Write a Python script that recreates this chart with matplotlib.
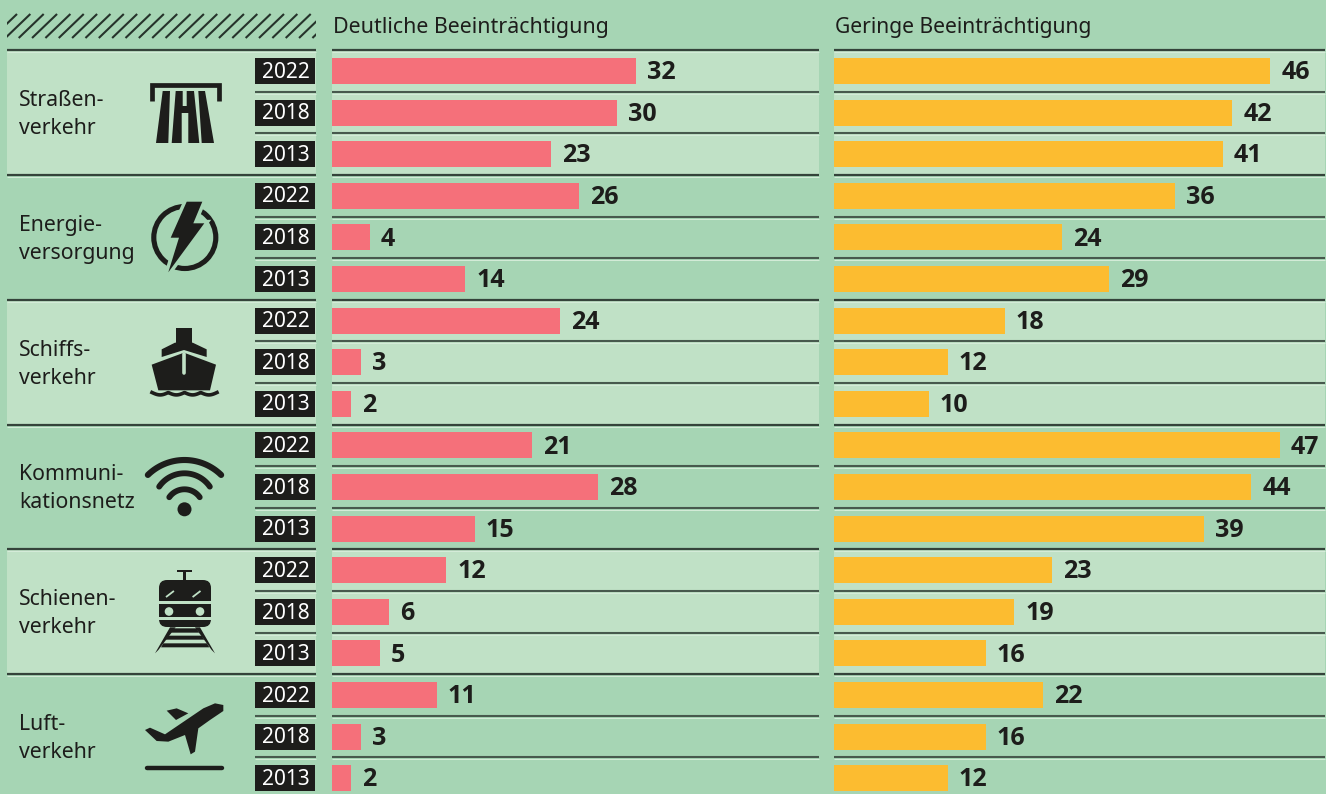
import numpy as np
import matplotlib
matplotlib.use("Agg")
import matplotlib.pyplot as plt
from matplotlib.patches import Polygon, Rectangle, Circle, FancyBboxPatch

categories = [["Straßen-", "verkehr"], ["Energie-", "versorgung"], ["Schiffs-", "verkehr"],
              ["Kommuni-", "kationsnetz"], ["Schienen-", "verkehr"], ["Luft-", "verkehr"]]
years = ["2022", "2018", "2013"]
deutlich = [32, 30, 23, 26, 4, 14, 24, 3, 2, 21, 28, 15, 12, 6, 5, 11, 3, 2]
gering = [46, 42, 41, 36, 24, 29, 18, 12, 10, 47, 44, 39, 23, 19, 16, 22, 16, 12]
title_left = "Deutliche Beeinträchtigung"
title_right = "Geringe Beeinträchtigung"

BG = "#a6d5b4"
LIGHT = "#c0e1c6"
RED = "#f5707a"
YEL = "#fcbc30"
INK = "#1d1d1b"
FONT = "Noto Sans"
BOLD = "Open Sans"
W, H = 1326, 794
fig = plt.figure(figsize=(W/100, H/100), dpi=100, facecolor=BG)

def mkax(x0, x1, y0, y1, zorder=1):
    ax = fig.add_axes([x0/W, 1-y1/H, (x1-x0)/W, (y1-y0)/H], zorder=zorder)
    ax.axis("off")
    return ax

ROW = 41.6
Y0 = 71.0
def row_y(i): return Y0 + ROW*i

pg = mkax(0, W, 0, H, zorder=0)
pg.set_xlim(0, W); pg.set_ylim(H, 0)

panels = [(7, 316), (332, 819), (834, 1324.5)]
for g in range(6):
    top = row_y(3*g) - 20.8
    if g % 2 == 0:
        for a, b in panels:
            pg.add_patch(Rectangle((a, top), b-a, 3*ROW, fc=LIGHT, ec="none", zorder=1))
for g in range(6):
    top = row_y(3*g) - 20.8
    for a, b in panels:
        pg.plot([a, b], [top, top], color="#34433a", lw=1.6, zorder=3, solid_capstyle="butt")
        pg.plot([a, b], [top+1.9, top+1.9], color="#d5ecd9", lw=0.7, zorder=3, solid_capstyle="butt")
    for k in (1, 2):
        yy = top + k*ROW
        for a, b in [(255, 316), panels[1], panels[2]]:
            pg.plot([a, b], [yy, yy], color="#47594d", lw=1.5, zorder=3, solid_capstyle="butt")
            pg.plot([a, b], [yy+1.9, yy+1.9], color="#d5ecd9", lw=0.7, zorder=3, solid_capstyle="butt")

# hatch header
clip = Rectangle((7, 10), 309, 32, transform=pg.transData)
for x in np.arange(-8, 320, 13.35):
    ln, = pg.plot([x, x+25], [38, 14], color="#26332b", lw=1.5, zorder=3, solid_capstyle="butt")
    ln.set_clip_path(clip)

pg.text(333, 28, title_left, fontsize=15.4, family=FONT, color=INK, va="center", ha="left", zorder=5)
pg.text(835, 28, title_right, fontsize=15.2, family=FONT, color=INK, va="center", ha="left", zorder=5)

for g, (l1, l2) in enumerate(categories):
    yc = row_y(3*g+1)
    pg.text(19, yc-12, l1, fontsize=15.3, family=FONT, color=INK, va="center", ha="left", zorder=5)
    pg.text(19, yc+16, l2, fontsize=15.3, family=FONT, color=INK, va="center", ha="left", zorder=5)

for i in range(18):
    y = row_y(i)
    pg.add_patch(Rectangle((255, y-13), 60, 26, fc=INK, ec="none", zorder=5))
    pg.text(285.5, y+1.2, years[i % 3], color="white", fontsize=15, family=FONT, ha="center", va="center", zorder=6)

rows = np.arange(18)
for vals, (a, b), scale, col in [(deutlich, panels[1], 9.5, RED), (gering, panels[2], 9.48, YEL)]:
    ax = mkax(a, b, row_y(0)-20.8, row_y(17)+20.8, zorder=2)
    ax.set_xlim(0, (b-a)/scale)
    ax.set_ylim(17.5, -0.5)
    ax.barh(rows, vals, height=26/ROW, color=col, left=0)
    for r, v in zip(rows, vals):
        ax.annotate(str(v), (v, r), xytext=(8, -1.2), textcoords="offset points",
                    fontsize=18, family=BOLD, weight="bold", color=INK, va="center", ha="left",
                    annotation_clip=False)

def zp(ox, oy, pts):
    return [(ox + p[0]/3, oy + p[1]/3) for p in pts]

def poly(pts, fc=INK, z=5, **kw):
    p = Polygon(pts, closed=True, fc=fc, ec=kw.pop("ec", "none"), zorder=z, **kw)
    pg.add_patch(p)

# road icon
pg.plot([151.5, 151.5, 219, 219], [101, 84.5, 84.5, 101], color=INK, lw=3.4,
        solid_joinstyle="miter", solid_capstyle="butt", zorder=5)
poly([(162.7, 91), (170, 91), (168.3, 143), (156, 143)])
poly([(198.3, 91), (205, 91), (214, 143), (201.7, 143)])
poly([(175.7, 91), (182.7, 91), (182.7, 106), (186.7, 106), (186.7, 91), (194, 91),
      (199.3, 143), (188.3, 143), (188.3, 113), (181.7, 113), (181.7, 143), (171.7, 143)])

# energy icon
pg.add_patch(Circle((184.8, 237.5), 31, fc="none", ec=INK, lw=3.7, zorder=5))
bolt = [(186.7, 201.7), (202.3, 201.7), (193.3, 223.3), (204.3, 223.3), (168.3, 272.3), (179, 237.7), (170.7, 237.7)]
poly(bolt, fc=BG, z=6, ec=BG, lw=5, joinstyle="miter")
poly(bolt, z=7)

# ship icon
ox, oy = 140, 322
poly(zp(ox, oy, [(108, 18), (155, 18), (155, 70), (108, 70)]))
poly(zp(ox, oy, [(65, 82), (105, 62), (158, 62), (200, 82), (200, 105), (132, 84), (65, 105)]))
poly(zp(ox, oy, [(132, 92), (228, 128), (210, 205), (55, 205), (35, 128)]))
pg.plot([184, 184], [354, 373], color=LIGHT, lw=2.6, zorder=6, solid_capstyle="round")
wx = np.linspace(152, 217, 90)
pg.plot(wx, 392.5 + 2.4*np.abs(np.sin((wx-152)/65*np.pi*4)), color=INK, lw=2.6, zorder=5)

# wifi icon
for r, cy, half, lw in [(18.6, 507.9, 55, 4.2), (30.7, 504, 55.6, 4.2), (52.4, 512.4, 44.4, 4.4)]:
    th = np.radians(np.linspace(-90-half, -90+half, 50))
    pg.plot(184.5 + r*np.cos(th), cy + r*np.sin(th), color=INK, lw=lw, solid_capstyle="round", zorder=5)
pg.add_patch(Circle((184.5, 509.3), 7, fc=INK, ec="none", zorder=5))

# train icon
ox, oy = 145, 565
pg.add_patch(Rectangle((177.3, 569.5), 14.3, 2.8, fc=INK, ec="none", zorder=5))
pg.add_patch(Rectangle((183, 571), 3.4, 9, fc=INK, ec="none", zorder=5))
pg.add_patch(FancyBboxPatch((164, 585), 42, 37, boxstyle="round,pad=5,rounding_size=8", fc=INK, ec="none", zorder=5))
for yy in (602.7, 618.3):
    pg.add_patch(Rectangle((159, yy-1.4), 52, 2.8, fc=LIGHT, ec="none", zorder=6))
for xx in (169, 200):
    pg.add_patch(Circle((xx, 611.5), 4.3, fc=LIGHT, ec="none", zorder=6))
for xx in (166.7, 193.3):
    pg.plot([xx, xx+6.5], [596.5, 591.5], color=LIGHT, lw=1.3, zorder=6)
poly(zp(ox, oy, [(75, 187), (92, 187), (40, 255), (30, 265)]))
poly(zp(ox, oy, [(150, 187), (165, 187), (210, 265), (200, 255)]))
poly(zp(ox, oy, [(85, 190), (155, 190), (162, 203), (78, 203)]))
poly(zp(ox, oy, [(70, 212), (170, 212), (178, 224), (62, 224)]))
poly(zp(ox, oy, [(55, 235), (186, 235), (193, 247), (48, 247)]))

# plane icon
ox, oy = 140, 695
poly(zp(ox, oy, [(80, 47), (110, 40), (145, 55), (108, 75)]))
poly(zp(ox, oy, [(15, 105), (30, 98), (75, 118), (190, 40), (225, 25), (250, 30), (250, 48),
                 (210, 75), (175, 100), (165, 170), (152, 178), (135, 120), (85, 140), (50, 138)]))
pg.plot([147, 222], [767.8, 767.8], color=INK, lw=3.2, solid_capstyle="round", zorder=5)

fig.savefig("out.png", dpi=100, facecolor=BG)
